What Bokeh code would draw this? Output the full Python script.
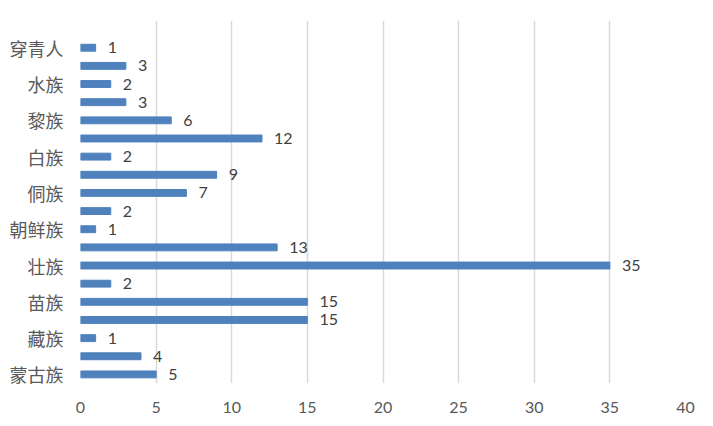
from bokeh.plotting import figure
from bokeh.models import Range1d, FixedTicker, ColumnDataSource
from bokeh.core.properties import value
from bokeh.embed import file_html
from bokeh.resources import INLINE

# categories bottom to top
categories = ["蒙古族", "回族", "藏族", "维吾尔族", "苗族", "彝族", "壮族", "布依族",
              "朝鲜族", "满族", "侗族", "瑶族", "白族", "土家族", "黎族", "畲族",
              "水族", "仡佬族", "穿青人"]
counts = [5, 4, 1, 15, 15, 2, 35, 13, 1, 2, 7, 9, 2, 12, 6, 3, 2, 3, 1]
shown_labels = ["蒙古族", "藏族", "苗族", "壮族", "朝鲜族", "侗族", "白族", "黎族", "水族", "穿青人"]
x_ticks = [0, 5, 10, 15, 20, 25, 30, 35, 40]

pos = list(range(len(categories)))
src = ColumnDataSource(dict(y=pos, v=counts, lab=[str(c) for c in counts]))

p = figure(frame_width=605, frame_height=363, output_backend="svg", toolbar_location=None,
           x_range=Range1d(0, 40), y_range=Range1d(-0.5, 19.5),
           min_border_left=80, min_border_top=20, min_border_right=12, min_border_bottom=30)
p.outline_line_color = None
p.background_fill_color = "white"

p.hbar(y="y", right="v", left=0, height=0.38, color="#4F81BD", source=src)
p.text(x="v", y="y", text="lab", source=src, x_offset=12, text_baseline="middle",
       text_align="left", text_font=value("Lato"), text_font_size="16px", text_color="#404040")

p.xaxis.ticker = FixedTicker(ticks=x_ticks)
p.xaxis.axis_line_color = None
p.xaxis.major_tick_line_color = None
p.xaxis.minor_tick_line_color = None
p.xaxis.major_tick_out = 0
p.xaxis.major_label_standoff = 18
p.xaxis.major_label_text_font = "Lato"
p.xaxis.major_label_text_font_size = "16px"
p.xaxis.major_label_text_color = "#595959"

idx = [categories.index(c) for c in shown_labels]
p.yaxis.ticker = FixedTicker(ticks=idx)
p.yaxis.major_label_overrides = {i: categories[i] for i in idx}
p.yaxis.axis_line_color = None
p.yaxis.major_tick_line_color = None
p.yaxis.minor_tick_line_color = None
p.yaxis.major_tick_out = 0
p.yaxis.major_label_standoff = 17
p.yaxis.major_label_text_font = "Noto Sans CJK SC"
p.yaxis.major_label_text_font_size = "18px"
p.yaxis.major_label_text_font_style = "normal"
p.yaxis.major_label_text_color = "#595959"

p.xgrid.ticker = FixedTicker(ticks=x_ticks)
p.xgrid.grid_line_color = "#D9D9D9"
p.xgrid.grid_line_width = 1.5
p.ygrid.grid_line_color = None

open("out.html", "w").write(file_html(p, INLINE))
